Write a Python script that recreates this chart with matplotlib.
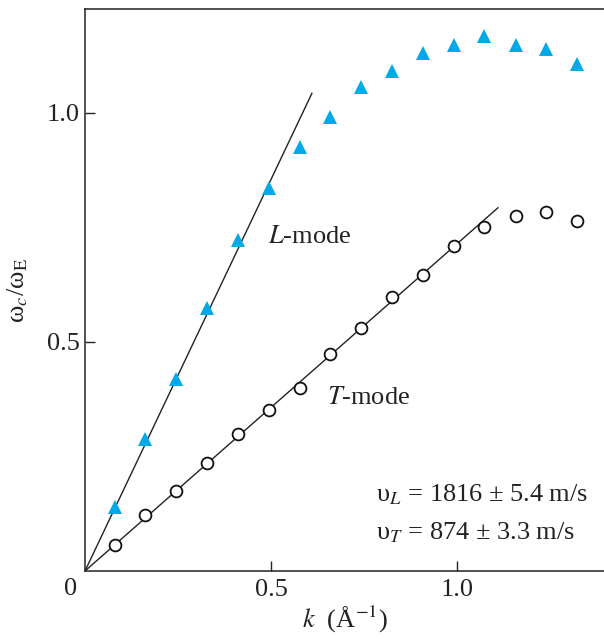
import numpy as np
import matplotlib
matplotlib.use("Agg")
import matplotlib.pyplot as plt

plt.rcParams['font.family'] = ['Liberation Serif', 'STIXGeneral', 'DejaVu Serif']
plt.rcParams['mathtext.fontset'] = 'stix'

# wave number k (1/Angstrom)
k = [0.081, 0.161, 0.245, 0.328, 0.411, 0.495, 0.578, 0.659, 0.742,
     0.825, 0.909, 0.992, 1.073, 1.159, 1.239, 1.323]
# L-mode (triangles)
w_L = [0.140, 0.288, 0.419, 0.574, 0.723, 0.836, 0.926, 0.992, 1.057,
       1.092, 1.132, 1.148, 1.169, 1.148, 1.139, 1.107]
# T-mode (circles)
w_T = [0.056, 0.122, 0.175, 0.236, 0.299, 0.351, 0.400, 0.474, 0.530,
       0.598, 0.646, 0.710, 0.752, 0.776, 0.784, 0.765]

# fitted linear dispersion lines
fit_L_k = [0.0, 0.61]
fit_L_w = [0.0, 1.043]
fit_T_k = [0.0, 1.11]
fit_T_w = [0.0, 0.793]

blue = '#00a9e8'

fig = plt.figure(figsize=(6.04, 6.39), dpi=100)
ax = fig.add_axes([85/604, 68/639, 519/604, 562/639])

ax.plot(fit_L_k, fit_L_w, color='#222222', lw=1.0)
ax.plot(fit_T_k, fit_T_w, color='#222222', lw=1.0)
ax.plot(k, w_L, linestyle='none', marker='^', ms=10, color=blue, mew=0)
ax.plot(k, w_T, linestyle='none', marker='o', ms=8.5, mfc='white',
        mec='#111111', mew=1.3)

ax.set_xlim(0, 1.395)
ax.set_ylim(0, 1.227)
ax.set_xticks([0.5, 1.0])
ax.set_xticklabels(['0.5', '1.0'])
ax.set_yticks([0.5, 1.0])
ax.set_yticklabels(['0.5', '1.0'])
ax.tick_params(direction='in', length=7, width=1.0, labelsize=19, colors='#222222')
ax.tick_params(axis='x', pad=6)
ax.tick_params(axis='y', pad=4)
ax.spines['right'].set_visible(False)
for s in ['left', 'bottom', 'top']:
    ax.spines[s].set_linewidth(1.1)
    ax.spines[s].set_color('#222222')

ax.text(-0.015, -0.012, '0', transform=ax.transAxes, ha='right', va='top',
        fontsize=19, color='#222222')

ax.set_xlabel(r'$k$  (Å$^{-1}$)', fontsize=19, labelpad=2, color='#222222')
ax.set_ylabel(r'ω$_c$/ω$_{\mathrm{E}}$', fontsize=19, labelpad=12, color='#222222')

ax.text(0.492, 0.73, r'$L$-mode', fontsize=19, va='center', ha='left', color='#222222')
ax.text(0.650, 0.377, r'$T$-mode', fontsize=19, va='center', ha='left', color='#222222')
ax.text(0.782, 0.166, r'υ$_L$ = 1816 ± 5.4 m/s', fontsize=19, va='center',
        ha='left', color='#222222')
ax.text(0.782, 0.083, r'υ$_T$ = 874 ± 3.3 m/s', fontsize=19, va='center',
        ha='left', color='#222222')

fig.savefig('out.png', dpi=100)
